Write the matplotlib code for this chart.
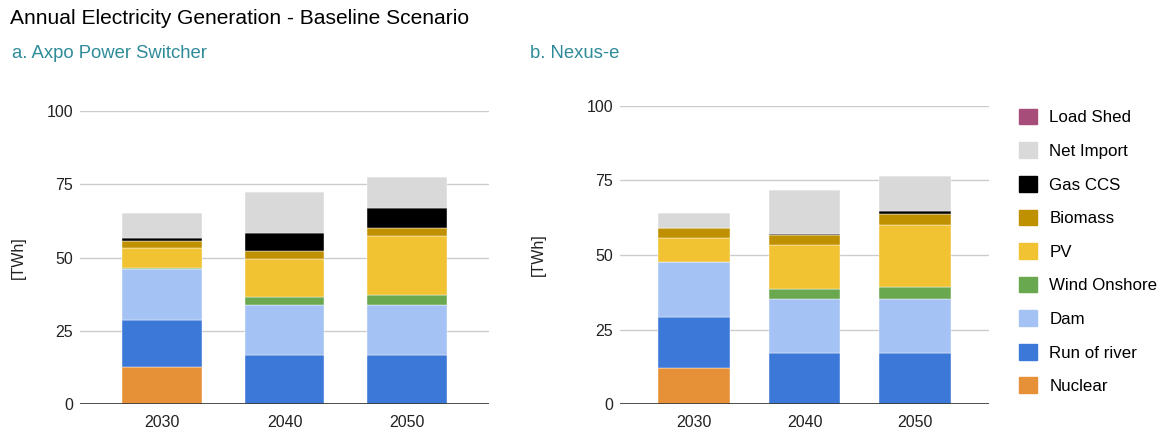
import numpy as np
import matplotlib
matplotlib.use("Agg")
import matplotlib.pyplot as plt
import matplotlib.patches as mpatches

plt.rcParams['font.family'] = ['Liberation Sans', 'DejaVu Sans']

years = ['2030', '2040', '2050']
sources = ['Nuclear', 'Run of river', 'Dam', 'Wind Onshore', 'PV',
           'Biomass', 'Gas CCS', 'Net Import', 'Load Shed']
colors = ['#e69138', '#3c78d8', '#a4c2f4', '#6aa84f', '#f1c232',
          '#bf9000', '#000000', '#d9d9d9', '#a64d79']

# a. Axpo Power Switcher  [TWh], one list per source (2030, 2040, 2050)
axpo_nuclear = [12.5, 0.0, 0.0]
axpo_river = [16.2, 16.6, 16.6]
axpo_dam = [17.3, 17.1, 17.1]
axpo_wind = [0.4, 2.7, 3.5]
axpo_pv = [7.0, 13.0, 20.2]
axpo_biomass = [2.3, 2.7, 2.8]
axpo_gasccs = [1.0, 6.4, 6.7]
axpo_import = [8.5, 13.9, 10.6]
axpo_shed = [0.0, 0.0, 0.0]

# b. Nexus-e
nexus_nuclear = [12.2, 0.0, 0.0]
nexus_river = [17.1, 17.0, 17.0]
nexus_dam = [18.5, 18.3, 18.3]
nexus_wind = [0.0, 3.4, 3.9]
nexus_pv = [7.8, 14.6, 20.8]
nexus_biomass = [3.4, 3.3, 3.7]
nexus_gasccs = [0.0, 0.5, 1.0]
nexus_import = [5.2, 14.7, 11.8]
nexus_shed = [0.0, 0.0, 0.0]

axpo = [axpo_nuclear, axpo_river, axpo_dam, axpo_wind, axpo_pv,
        axpo_biomass, axpo_gasccs, axpo_import, axpo_shed]
nexus = [nexus_nuclear, nexus_river, nexus_dam, nexus_wind, nexus_pv,
         nexus_biomass, nexus_gasccs, nexus_import, nexus_shed]

W, H = 1162, 430
fig = plt.figure(figsize=(W / 100, H / 100), dpi=100)


def px_axes(x0, x1, y_top, y_bot):
    # axes from pixel coordinates (origin top-left)
    return fig.add_axes([x0 / W, 1 - y_bot / H, (x1 - x0) / W, (y_bot - y_top) / H])


def draw_panel(ax, series):
    x = np.arange(len(years))
    bottom = np.zeros(len(years))
    for vals, c in zip(series, colors):
        vals = np.array(vals)
        ax.bar(x, vals, width=0.65, bottom=bottom, color=c,
               edgecolor='white', linewidth=0.3, zorder=3)
        bottom += vals
    ax.set_xlim(-0.67, 2.67)
    ax.set_ylim(0, 100)
    ax.set_yticks([0, 25, 50, 75, 100])
    ax.set_xticks(x)
    ax.set_xticklabels(years)
    ax.grid(axis='y', color='#cccccc', linewidth=1, zorder=0)
    ax.axhline(0, color='#333333', linewidth=1.2, zorder=4)
    for s in ax.spines.values():
        s.set_visible(False)
    ax.tick_params(length=0, labelsize=11.5, colors='#222222')
    ax.tick_params(axis='y', pad=5)
    ax.tick_params(axis='x', pad=8)
    ax.set_ylabel('[TWh]', fontsize=11.5, color='#222222')


ax1 = px_axes(80, 489, 111, 404)
draw_panel(ax1, axpo)
ax1.yaxis.set_label_coords(-54 / 409, 0.5)

ax2 = px_axes(620, 989, 106, 404)
draw_panel(ax2, nexus)
ax2.yaxis.set_label_coords(-74 / 369, 0.5)

fig.text(10 / W, 1 - 19 / H, 'Annual Electricity Generation - Baseline Scenario',
         fontsize=15.1, color='#000000', va='center', ha='left')
fig.text(12 / W, 1 - 53 / H, 'a. Axpo Power Switcher', fontsize=13.3,
         color='#2e8b98', va='center', ha='left')
fig.text(530 / W, 1 - 53 / H, 'b. Nexus-e', fontsize=13.3,
         color='#2e8b98', va='center', ha='left')

handles = [mpatches.Patch(color=c, label=s) for s, c in zip(sources, colors)]
handles = handles[::-1]
fig.legend(handles=handles, loc='upper left', bbox_to_anchor=(1012 / W, 1 - 102 / H),
           frameon=False, fontsize=12.2, handlelength=1.05, handleheight=1.05,
           labelspacing=1.0, handletextpad=0.75, borderaxespad=0)

fig.savefig('out.png', dpi=100)
